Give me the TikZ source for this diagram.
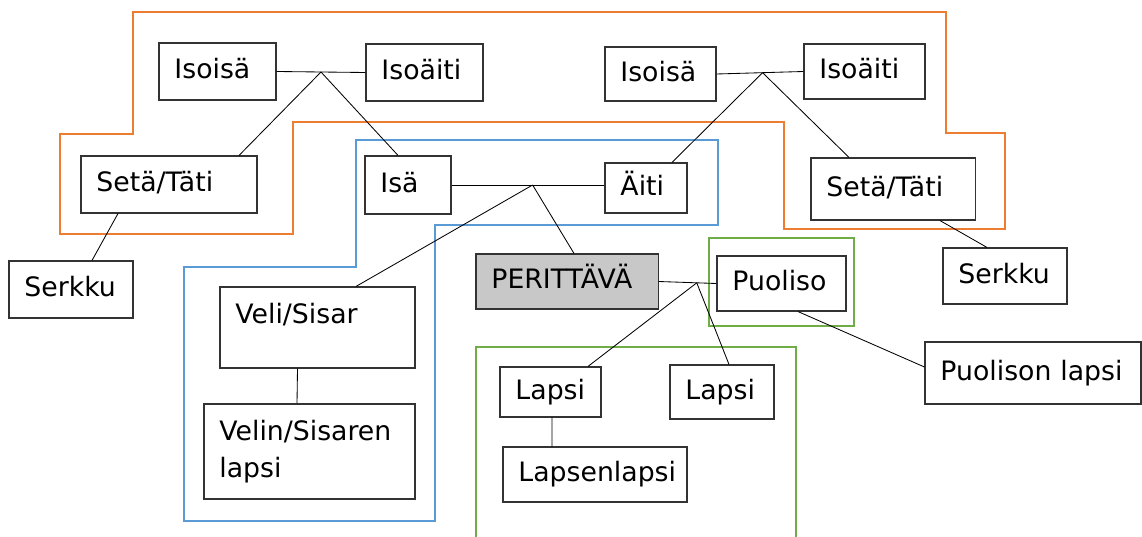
\documentclass[tikz,border=0pt]{standalone}
\usepackage{fontspec}
\setmainfont{DejaVu Sans}
\usepackage{tikz}
\usetikzlibrary{calc}
\definecolor{dforange}{RGB}{237,125,49}
\definecolor{dfblue}{RGB}{91,155,213}
\definecolor{dfgreen}{RGB}{112,173,71}
\definecolor{dfgray}{RGB}{200,200,200}
\tikzstyle{person} = [rectangle, draw=black!80, line width=0.8pt, fill=white, inner xsep=11pt, inner ysep=0pt, align=left, font=\fontsize{19}{26}\selectfont, execute at begin node=\strut, execute at end node=\strut]
\tikzstyle{link} = [line width=0.6pt, draw=black]
\tikzstyle{group} = [line width=1.6pt]

\begin{document}
\begin{tikzpicture}[x=0.025cm, y=-0.025cm]
\useasboundingbox (0,0) rectangle (1142,537);

% Groups
\draw[group, dforange] (133,12) -- (946,12) -- (946,133) -- (1005,133) -- (1005,229) -- (784,229) -- (784,122) -- (293,122) -- (293,234) -- (60,234) -- (60,134) -- (133,134) -- cycle;
\draw[group, dfblue] (356,140) -- (718,140) -- (718,225) -- (435,225) -- (435,521) -- (184,521) -- (184,267) -- (356,267) -- cycle;
\draw[group, dfgreen] (709,238) rectangle (854,326);
\draw[group, dfgreen] (476,537) -- (476,347) -- (796,347) -- (796,537);

% Grandparents
\node[person, text width=61.2pt, minimum height=40.5pt] (isoisaL) at (217.5,71.5) {Isoisä};
\node[person, text width=61.2pt, minimum height=40.5pt] (isoaitiL) at (424.5,72.5) {Isoäiti};
\node[person, text width=57pt, minimum height=38.4pt] (isoisaR) at (660.5,74) {Isoisä};
\node[person, text width=64.1pt, minimum height=39.1pt] (isoaitiR) at (864.5,71.5) {Isoäiti};

% Parents, uncles and aunts, cousins
\node[person, text width=103.2pt, minimum height=40.5pt] (setaL) at (169,184.5) {Setä/Täti};
\node[person, text width=66.2pt, minimum height=40.5pt] (serkkuL) at (71,289.5) {Serkku};
\node[person, text width=39.2pt, minimum height=41.3pt] (isa) at (408,185) {Isä};
\node[person, text width=36.3pt, minimum height=35.6pt] (aiti) at (646,188) {Äiti};
\node[person, text width=94.7pt, minimum height=44.1pt] (setaR) at (893,189) {Setä/Täti};
\node[person, text width=66.2pt, minimum height=39.8pt] (serkkuR) at (1005,276) {Serkku};

% Siblings
\node[person, text width=116.7pt, minimum height=57.6pt, text depth=24pt] (veli) at (317.5,327.5) {Veli/Sisar};
\node[person, text width=128.1pt, minimum height=67.6pt] (velin) at (309.5,451.5) {Velin/Sisaren\\lapsi};

% Deceased, spouse and children
\node[person, fill=dfgray, text width=107.5pt, minimum height=39.1pt] (perittava) at (567,281.5) {PERITTÄVÄ};
\node[person, text width=69.8pt, minimum height=39.1pt] (puoliso) at (781.5,283.5) {Puoliso};
\node[person, text width=49.8pt, minimum height=35.6pt] (lapsi1) at (550.5,392) {Lapsi};
\node[person, text width=52pt, minimum height=38.4pt] (lapsi2) at (722,392) {Lapsi};
\node[person, text width=108.9pt, minimum height=39.1pt] (lapsenlapsi) at (595,474.5) {Lapsenlapsi};
\node[person, text width=131.6pt, minimum height=44.1pt] (puolisonlapsi) at (1033,373) {Puolison lapsi};

% Links
\coordinate (jL) at ($(isoisaL.east)!0.5!(isoaitiL.west)$);
\draw[link] (isoisaL.east) -- (isoaitiL.west);
\draw[link] (jL) -- ($(setaL.north)+(70,0)$);
\draw[link] (jL) -- ($(isa.north)+(-10,0)$);

\coordinate (jR) at ($(isoisaR.east)!0.53!(isoaitiR.west)$);
\draw[link] (isoisaR.east) -- (isoaitiR.west);
\draw[link] (jR) -- ($(aiti.north)+(26,0)$);
\draw[link] (jR) -- ($(setaR.north)+(-44,0)$);

\draw[link] ($(setaL.south)+(-51,0)$) -- ($(serkkuL.north)+(21,0)$);
\draw[link] ($(setaR.south)+(47,0)$) -- ($(serkkuR.north)+(-18,0)$);

\coordinate (jP) at ($(isa.east)!0.53!(isa.east -| aiti.west)$);
\draw[link] (isa.east) -- (isa.east -| aiti.west);
\draw[link] (jP) -- ($(veli.north)+(38.5,0)$);
\draw[link] (jP) -- ($(perittava.north)+(7,0)$);
\draw[link] ($(veli.south)+(-20,0)$) -- ($(velin.north)+(-12.5,0)$);

\coordinate (jC) at ($(perittava.east)!0.66!(puoliso.west)$);
\draw[link] (perittava.east) -- (puoliso.west);
\draw[link] (jC) -- ($(lapsi1.north)+(37.5,0)$);
\draw[link] (jC) -- ($(lapsi2.north)+(7,0)$);
\draw[link] ($(lapsi1.south)+(1.5,0)$) -- ($(lapsenlapsi.north)+(-43,0)$);
\draw[link] ($(puoliso.south)+(16.5,0)$) -- ($(puolisonlapsi.west)+(0,-6)$);
\end{tikzpicture}
\end{document}
